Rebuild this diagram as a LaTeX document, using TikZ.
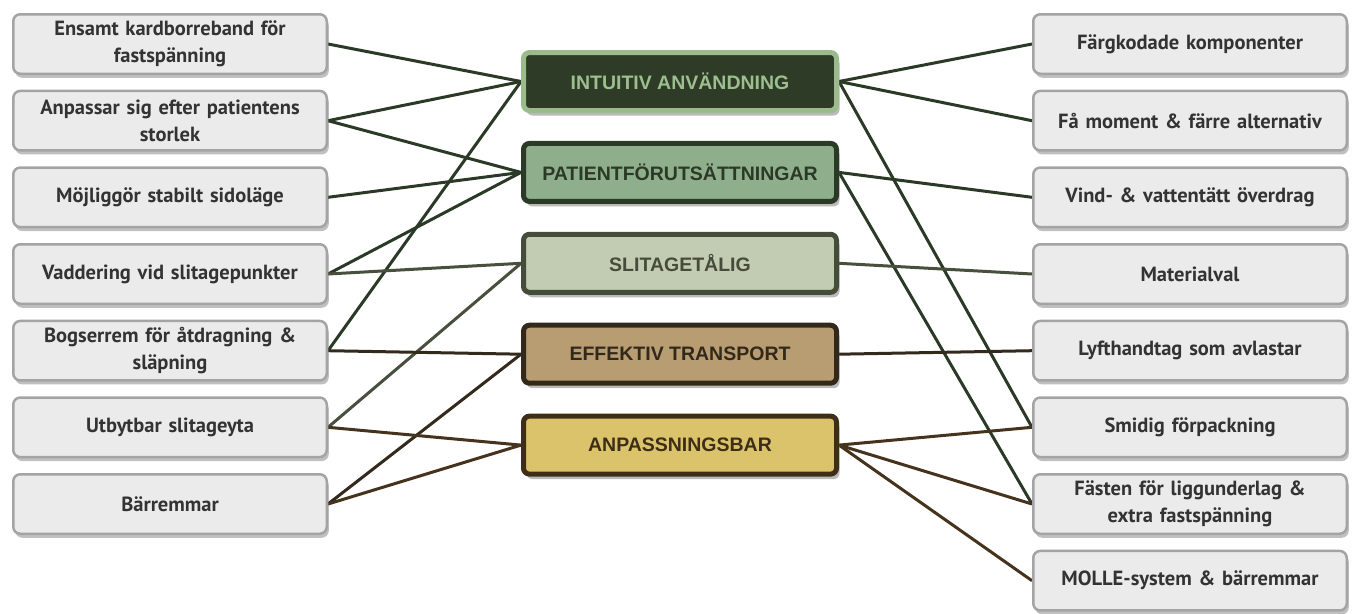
\documentclass[tikz,border=0pt]{standalone}
\usepackage{fontspec}
\setmainfont{PT Sans}
\newfontfamily\catfont{Liberation Sans}
\usetikzlibrary{shadows,backgrounds}
\definecolor{boxfill}{HTML}{EBEBEB}
\definecolor{boxdraw}{HTML}{A4A4A4}
\definecolor{boxtext}{HTML}{333333}
\definecolor{cAfill}{HTML}{2E3B26}\definecolor{cAdraw}{HTML}{9BBB8D}\definecolor{cAtext}{HTML}{9DBE8E}
\definecolor{cBfill}{HTML}{8FAF8C}\definecolor{cBdraw}{HTML}{2A3A26}
\definecolor{cCfill}{HTML}{C2CCB2}\definecolor{cCdraw}{HTML}{454C3A}
\definecolor{cDfill}{HTML}{B89C72}\definecolor{cDdraw}{HTML}{33291B}
\definecolor{cEfill}{HTML}{DBC36B}\definecolor{cEdraw}{HTML}{3E2E18}
\definecolor{lnA}{HTML}{2B3A26}
\definecolor{lnC}{HTML}{474F3D}
\definecolor{lnD}{HTML}{33291C}
\definecolor{lnE}{HTML}{45331E}
\tikzset{
  sidebox/.style={draw=boxdraw, fill=boxfill, line width=2.5pt, rounded corners=7pt,
    minimum width=313.5pt, minimum height=59.5pt, text width=305pt, align=center,
    text=boxtext, font=\bfseries\fontsize{20.5}{27}\selectfont, inner sep=0pt,
    drop shadow={shadow xshift=2pt, shadow yshift=-4pt, opacity=0.45, fill=black!55}},
  catbox/.style={line width=5pt, rounded corners=6pt,
    minimum width=313pt, minimum height=58pt, inner sep=0pt,
    font=\catfont\bfseries\fontsize{19.5}{23}\selectfont,
    drop shadow={shadow xshift=3pt, shadow yshift=-5pt, opacity=0.45, fill=black!60}},
  link/.style={line width=3pt}
}
\begin{document}
\begin{tikzpicture}[x=1pt,y=-1pt]
\useasboundingbox (0,0) rectangle (1354,613);
% left boxes
\node[sidebox] (L1) at (170,44) {Ensamt kardborreband för\\fastspänning};
\node[sidebox] (L2) at (170,120.7) {Anpassar sig efter patientens\\storlek};
\node[sidebox] (L3) at (170,197.3) {Möjliggör stabilt sidoläge};
\node[sidebox] (L4) at (170,274) {Vaddering vid slitagepunkter};
\node[sidebox] (L5) at (170,350.7) {Bogserrem för åtdragning \&\\släpning};
\node[sidebox] (L6) at (170,427.3) {Utbytbar slitageyta};
\node[sidebox] (L7) at (170,504) {Bärremmar};
% right boxes
\node[sidebox] (R1) at (1190,44) {Färgkodade komponenter};
\node[sidebox] (R2) at (1190,120.7) {Få moment \& färre alternativ};
\node[sidebox] (R3) at (1190,197.3) {Vind- \& vattentätt överdrag};
\node[sidebox] (R4) at (1190,274) {Materialval};
\node[sidebox] (R5) at (1190,350.7) {Lyfthandtag som avlastar};
\node[sidebox] (R6) at (1190,427.3) {Smidig förpackning};
\node[sidebox] (R7) at (1190,504) {Fästen för liggunderlag \&\\extra fastspänning};
\node[sidebox] (R8) at (1190,580.7) {MOLLE-system \& bärremmar};
% category boxes
\node[catbox, fill=cAfill, draw=cAdraw, text=cAtext] (C1) at (680,81.5) {INTUITIV ANVÄNDNING};
\node[catbox, fill=cBfill, draw=cBdraw, text=cBdraw] (C2) at (680,172.4) {PATIENTFÖRUTSÄTTNINGAR};
\node[catbox, fill=cCfill, draw=cCdraw, text=cCdraw] (C3) at (680,263.3) {SLITAGETÅLIG};
\node[catbox, fill=cDfill, draw=cDdraw, text=cDdraw] (C4) at (680,354.2) {EFFEKTIV TRANSPORT};
\node[catbox, fill=cEfill, draw=cEdraw, text=cEdraw] (C5) at (680,445.1) {ANPASSNINGSBAR};
% connectors
\begin{scope}[on background layer]
\draw[link, lnA] (L1.east) -- (C1.west);
\draw[link, lnA] (L2.east) -- (C1.west);
\draw[link, lnA] (L5.east) -- (C1.west);
\draw[link, lnA] (L2.east) -- (C2.west);
\draw[link, lnA] (L3.east) -- (C2.west);
\draw[link, lnA] (L4.east) -- (C2.west);
\draw[link, lnC] (L4.east) -- (C3.west);
\draw[link, lnC] (L6.east) -- (C3.west);
\draw[link, lnD] (L5.east) -- (C4.west);
\draw[link, lnD] (L7.east) -- (C4.west);
\draw[link, lnE] (L6.east) -- (C5.west);
\draw[link, lnE] (L7.east) -- (C5.west);
\draw[link, lnA] (C1.east) -- (R1.west);
\draw[link, lnA] (C1.east) -- (R2.west);
\draw[link, lnA] (C1.east) -- (R6.west);
\draw[link, lnA] (C2.east) -- (R3.west);
\draw[link, lnA] (C2.east) -- (R7.west);
\draw[link, lnC] (C3.east) -- (R4.west);
\draw[link, lnD] (C4.east) -- (R5.west);
\draw[link, lnE] (C5.east) -- (R6.west);
\draw[link, lnE] (C5.east) -- (R7.west);
\draw[link, lnE] (C5.east) -- (R8.west);
\end{scope}
\end{tikzpicture}
\end{document}
